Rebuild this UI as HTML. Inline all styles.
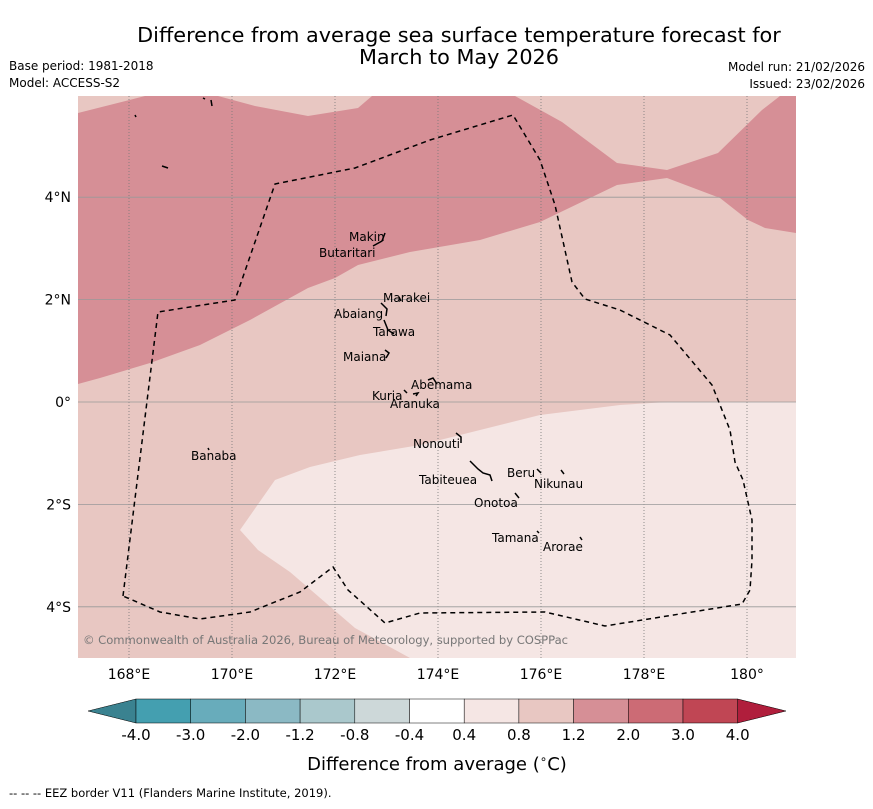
<!DOCTYPE html>
<html><head><meta charset="utf-8">
<style>
body{margin:0;background:#fff;width:873px;height:804px;overflow:hidden;font-family:"Liberation Sans","DejaVu Sans",sans-serif;}
svg text{font-family:"DejaVu Sans","Liberation Sans",sans-serif;}
</style></head>
<body>
<svg id="s" width="873" height="804" xmlns="http://www.w3.org/2000/svg">
<text x="459" y="42" font-size="20.8" text-anchor="middle">Difference from average sea surface temperature forecast for</text>
<text x="459" y="64" font-size="20.8" text-anchor="middle">March to May 2026</text>
<text x="9" y="70" font-size="12">Base period: 1981-2018</text>
<text x="9" y="87" font-size="12">Model: ACCESS-S2</text>
<text x="865" y="71" font-size="12" text-anchor="end">Model run: 21/02/2026</text>
<text x="865" y="88" font-size="12" text-anchor="end">Issued: 23/02/2026</text>
<defs><clipPath id="mc"><rect x="78" y="96" width="718" height="562"/></clipPath></defs>
<g clip-path="url(#mc)">
<rect x="78" y="96" width="718" height="562" fill="#e8c7c2"/>
<polygon fill="#d68f96" points="78,113 145,96 218,96 255,106 308,116 358,108 372,96 515,96 562,122 617,163 667,170 718,153 762,110 780,96 796,96 796,233 765,228 748,220 720,198 667,178 617,185 540,222 480,240 410,252 358,265 335,278 308,288 250,320 200,345 150,363 100,378 78,384"/>
<polygon fill="#f5e6e4" points="240,530 275,480 310,467 360,455 420,445 540,415 620,405 667,402 796,402 796,658 410,658 355,628 290,572 258,550"/>
<g id="grid" stroke="#777" stroke-width="0.8"></g>
<polyline fill="none" stroke="#000" stroke-width="1.5" stroke-dasharray="5,4" points="123,596 158,312 235,300 275,184 355,168 430,140 513,115 540,160 555,205 572,282 585,299 620,310 670,335 712,385 730,430 735,462 743,480 752,520 752,560 750,590 742,604 605,626 545,612 420,613 385,623 348,590 333,567 300,592 250,612 200,619 160,612 123,596"/>
<g stroke="#000" stroke-width="1.5" fill="none">
<path d="M373,246 L382,241 L385,233"/><path d="M381,303 L387,309 L386,316"/><path d="M384,320 L388,330 L394,334"/><path d="M385,350 L389,353 L386,358"/><path d="M399,297 L401,301"/>
<path d="M428,380 L433,378 L437,384"/><path d="M404,390 L407,393"/><path d="M413,394 L418,393 L416,396"/>
<path d="M456,433 L461,437 L461,443"/><path d="M470,461 L478,469 L483,473 L490,475 L492,481"/><path d="M537,469 L541,473"/><path d="M561,470 L564,474"/><path d="M515,493 L519,498"/><path d="M537,531 L539,533"/><path d="M580,537 L582,540"/><path d="M208,448 L209,450"/>
<path d="M135,115 L136,117"/><path d="M162,166 L168,168"/><path d="M211,100 L212,106"/><path d="M203,98 L205,99"/>
</g>
<g font-size="12" fill="#000">
<text x="349" y="241">Makin</text><text x="319" y="257">Butaritari</text><text x="383" y="302">Marakei</text><text x="334" y="318">Abaiang</text><text x="373" y="336">Tarawa</text><text x="343" y="361">Maiana</text><text x="411" y="389">Abemama</text><text x="372" y="400">Kuria</text><text x="390" y="408">Aranuka</text><text x="413" y="448">Nonouti</text><text x="191" y="460">Banaba</text><text x="507" y="477">Beru</text><text x="419" y="484">Tabiteuea</text><text x="534" y="488">Nikunau</text><text x="474" y="507">Onotoa</text><text x="492" y="542">Tamana</text><text x="543" y="551">Arorae</text>
</g>
<text x="83" y="644" font-size="11.6" fill="#777" textLength="485">© Commonwealth of Australia 2026, Bureau of Meteorology, supported by COSPPac</text>
</g>
<g id="axes" font-size="14" fill="#000"></g>
<g id="cbar"></g>
<text x="437" y="770" font-size="18" text-anchor="middle">Difference from average (<tspan font-size="12" dy="-7">∘</tspan><tspan dy="7">C)</tspan></text>
<text x="9" y="797" font-size="11.5">--  --  -- EEZ border V11 (Flanders Marine Institute, 2019).</text>
</svg>
<script>
const lonTicks=[168,170,172,174,176,178,180];
const lonLabels=["168°E","170°E","172°E","174°E","176°E","178°E","180°"];
const latTicks=[4,2,0,-2,-4];
const latLabels=["4°N","2°N","0°","2°S","4°S"];
const cbColors=["#449fb0","#68acbb","#8bb9c4","#aac8cc","#cdd8d9","#ffffff","#f5e6e4","#e8c7c2","#d68f96","#cc6b75","#c04654"];
const cbLabels=["-4.0","-3.0","-2.0","-1.2","-0.8","-0.4","0.4","0.8","1.2","2.0","3.0","4.0"];
const NS="http://www.w3.org/2000/svg";
const xl=lon=>129+(lon-168)*51.5;
const yl=lat=>402-lat*51.2;
function mk(t,a,p){const e=document.createElementNS(NS,t);for(const k in a)e.setAttribute(k,a[k]);p.appendChild(e);return e;}
const grid=document.getElementById('grid'),axes=document.getElementById('axes'),cb=document.getElementById('cbar');
lonTicks.forEach((v,i)=>{const l=mk('line',{x1:xl(v),x2:xl(v),y1:96,y2:658,'stroke-dasharray':'1,2'},grid);


const t=mk('text',{x:xl(v),y:679,'text-anchor':'middle'},axes);t.textContent=lonLabels[i];

});
latTicks.forEach((v,i)=>{const l=mk('line',{x1:78,x2:796,y1:yl(v),y2:yl(v),stroke:'#999'},grid);


const t=mk('text',{x:71,y:yl(v)+5,'text-anchor':'end'},axes);t.textContent=latLabels[i];

});
const cx0=136,cw=54.7,cy=699,ch=24;
const lt=mk('polygon',{points:`88,711 ${cx0},${cy} ${cx0},${cy+ch}`,fill:'#3a8290',stroke:'#000','stroke-width':0.5},cb);


cbColors.forEach((c,i)=>{const r=mk('rect',{x:cx0+i*cw,y:cy,width:cw,height:ch,fill:c,stroke:'#000','stroke-width':0.5},cb);

});
const xe=cx0+cbColors.length*cw;
const rt=mk('polygon',{points:`${xe},${cy} 786,711 ${xe},${cy+ch}`,fill:'#b01e3c',stroke:'#000','stroke-width':0.5},cb);


cbLabels.forEach((s,i)=>{const t=mk('text',{x:cx0+i*cw,y:740,'text-anchor':'middle','font-size':15},cb);t.textContent=s;

});
</script>
</body></html>
